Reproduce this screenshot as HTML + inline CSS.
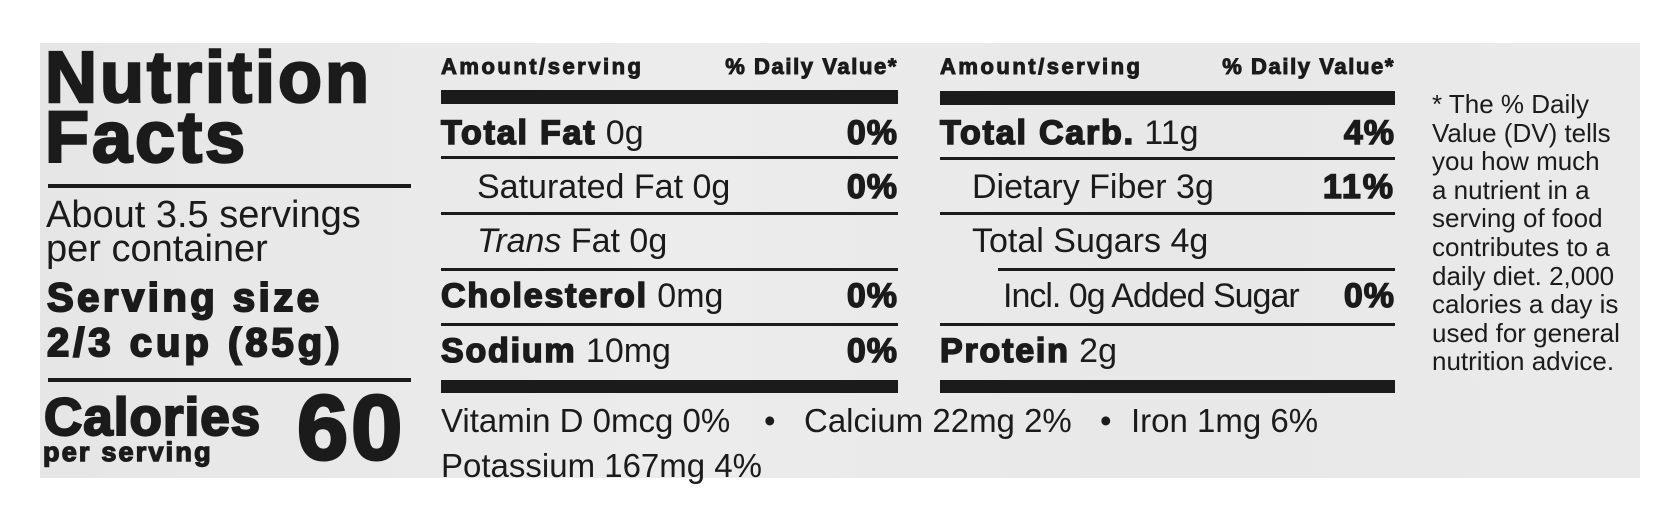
<!DOCTYPE html>
<html><head><meta charset="utf-8"><style>
html,body{margin:0;padding:0;background:#fff;}
body{width:1680px;height:532px;position:relative;overflow:hidden;font-family:"Liberation Sans",Arial,sans-serif;color:#1b1b1b;}
#panel{position:absolute;left:40px;top:43px;width:1600px;height:435px;background:linear-gradient(90deg,#e6e6e6,#ececec 40%,#e8e8e8 70%,#eaeaea);}
.t{position:absolute;line-height:1;white-space:nowrap;}
.h{font-weight:bold;-webkit-text-stroke:1.4px #1b1b1b;}
.r{text-align:right;}
.ln{position:absolute;background:#1b1b1b;}
</style></head><body>
<div id="panel"></div>

<div class="t h" style="left:45px;top:42px;font-size:72px;letter-spacing:3px;-webkit-text-stroke:2.5px #1b1b1b;">Nutrition</div>
<div class="t h" style="left:45px;top:102px;font-size:72px;letter-spacing:3px;-webkit-text-stroke:2.5px #1b1b1b;">Facts</div>
<div class="ln" style="left:48px;top:184px;width:363px;height:4px;"></div>
<div class="t" style="left:46px;top:196px;font-size:38px;">About 3.5 servings</div>
<div class="t" style="left:46px;top:230px;font-size:38px;">per container</div>
<div class="t h" style="left:47px;top:278px;font-size:40px;letter-spacing:3.5px;-webkit-text-stroke:2px #1b1b1b;">Serving size</div>
<div class="t h" style="left:47px;top:323px;font-size:40px;letter-spacing:4px;-webkit-text-stroke:2px #1b1b1b;">2/3 cup (85g)</div>
<div class="ln" style="left:48px;top:378px;width:363px;height:4px;"></div>
<div class="t h" style="left:44px;top:391px;font-size:53px;letter-spacing:1px;-webkit-text-stroke:2.2px #1b1b1b;">Calories</div>
<div class="t h" style="left:43px;top:439px;font-size:27px;letter-spacing:2.2px;">per serving</div>
<div class="t h" style="left:297px;top:382px;font-size:92px;letter-spacing:3px;-webkit-text-stroke:3px #1b1b1b;">60</div>

<!-- column 1 -->
<div class="t h" style="left:441px;top:56px;font-size:22px;letter-spacing:2.5px;-webkit-text-stroke:1px #1b1b1b;">Amount/serving</div>
<div class="t h r" style="left:640px;width:258px;top:56px;font-size:22px;letter-spacing:1.6px;-webkit-text-stroke:1px #1b1b1b;">% Daily Value*</div>
<div class="ln" style="left:441px;top:90px;width:457px;height:14px;"></div>

<div class="t" style="left:441px;top:116px;font-size:34px;"><span class="h" style="letter-spacing:1.8px;-webkit-text-stroke:1.6px #1b1b1b;">Total Fat</span> 0g</div>
<div class="t h r" style="left:798px;width:100px;top:116px;font-size:34px;letter-spacing:1px;">0%</div>
<div class="ln" style="left:441px;top:156px;width:457px;height:3px;"></div>
<div class="t" style="left:477px;top:170px;font-size:34px;">Saturated Fat 0g</div>
<div class="t h r" style="left:798px;width:100px;top:170px;font-size:34px;letter-spacing:1px;">0%</div>
<div class="ln" style="left:441px;top:212px;width:457px;height:3px;"></div>
<div class="t" style="left:477px;top:224px;font-size:34px;"><i>Trans</i> Fat 0g</div>
<div class="ln" style="left:441px;top:268px;width:457px;height:3px;"></div>
<div class="t" style="left:441px;top:279px;font-size:34px;"><span class="h" style="letter-spacing:1.8px;-webkit-text-stroke:1.6px #1b1b1b;">Cholesterol</span> 0mg</div>
<div class="t h r" style="left:798px;width:100px;top:279px;font-size:34px;letter-spacing:1px;">0%</div>
<div class="ln" style="left:441px;top:323px;width:457px;height:3px;"></div>
<div class="t" style="left:441px;top:334px;font-size:34px;"><span class="h" style="letter-spacing:1.8px;-webkit-text-stroke:1.6px #1b1b1b;">Sodium</span> 10mg</div>
<div class="t h r" style="left:798px;width:100px;top:334px;font-size:34px;letter-spacing:1px;">0%</div>
<div class="ln" style="left:441px;top:380px;width:457px;height:13px;"></div>

<!-- column 2 -->
<div class="t h" style="left:940px;top:56px;font-size:22px;letter-spacing:2.5px;-webkit-text-stroke:1px #1b1b1b;">Amount/serving</div>
<div class="t h r" style="left:1137px;width:258px;top:56px;font-size:22px;letter-spacing:1.6px;-webkit-text-stroke:1px #1b1b1b;">% Daily Value*</div>
<div class="ln" style="left:940px;top:91px;width:455px;height:14px;"></div>

<div class="t" style="left:940px;top:116px;font-size:34px;"><span class="h" style="letter-spacing:1.8px;-webkit-text-stroke:1.6px #1b1b1b;">Total Carb.</span> 11g</div>
<div class="t h r" style="left:1295px;width:100px;top:116px;font-size:34px;letter-spacing:1px;">4%</div>
<div class="ln" style="left:940px;top:157px;width:455px;height:3px;"></div>
<div class="t" style="left:972px;top:170px;font-size:34px;">Dietary Fiber 3g</div>
<div class="t h r" style="left:1295px;width:100px;top:170px;font-size:34px;letter-spacing:2px;">11%</div>
<div class="ln" style="left:940px;top:212px;width:455px;height:3px;"></div>
<div class="t" style="left:972px;top:224px;font-size:34px;">Total Sugars 4g</div>
<div class="ln" style="left:998px;top:268px;width:397px;height:3px;"></div>
<div class="t" style="left:1003px;top:279px;font-size:34px;letter-spacing:-1px;">Incl. 0g Added Sugar</div>
<div class="t h r" style="left:1295px;width:100px;top:279px;font-size:34px;letter-spacing:1px;">0%</div>
<div class="ln" style="left:940px;top:323px;width:455px;height:3px;"></div>
<div class="t" style="left:940px;top:334px;font-size:34px;"><span class="h" style="letter-spacing:1.8px;-webkit-text-stroke:1.6px #1b1b1b;">Protein</span> 2g</div>
<div class="ln" style="left:940px;top:380px;width:455px;height:13px;"></div>

<!-- vitamins -->
<div class="t" style="left:441px;top:404px;font-size:33px;">Vitamin D 0mcg 0%</div>
<div class="t" style="left:764px;top:404px;font-size:33px;">•</div>
<div class="t" style="left:804px;top:404px;font-size:33px;">Calcium 22mg 2%</div>
<div class="t" style="left:1100px;top:404px;font-size:33px;">•</div>
<div class="t" style="left:1131px;top:404px;font-size:33px;">Iron 1mg 6%</div>
<div class="t" style="left:441px;top:449px;font-size:33px;">Potassium 167mg 4%</div>

<!-- footnote -->
<div class="t" style="left:1432px;top:90px;font-size:26px;line-height:28.6px;white-space:normal;width:200px;">* The % Daily<br>Value (DV) tells<br>you how much<br>a nutrient in a<br>serving of food<br>contributes to a<br>daily diet. 2,000<br>calories a day is<br>used for general<br>nutrition advice.</div>
</body></html>
